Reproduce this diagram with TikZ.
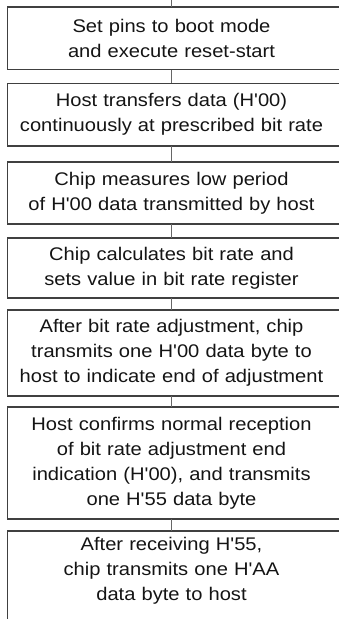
\documentclass[tikz,border=0pt]{standalone}
\usepackage{fontspec}
\setmainfont{Liberation Sans}[FakeStretch=1.1, Ligatures=TeXOff]
\begin{document}
\begin{tikzpicture}[x=1pt,y=-1pt,
  stepbox/.style={draw=none, minimum width=328pt, text width=326pt, align=center, inner sep=0pt,
    font=\fontsize{18.3}{25}\selectfont, text=black!92},
  boxline/.style={draw=black!75, line width=1.5pt},
  conn/.style={draw=black!60, line width=0.8pt}]
\useasboundingbox (0,0) rectangle (339,619);
\clip (0,0) rectangle (339,619);
\node[stepbox, minimum height=62.5pt] (b1) at (171.5,38.25) {Set pins to boot mode\\and execute reset-start};
\node[stepbox, minimum height=62.5pt] (b2) at (171.5,114.75) {Host transfers data (H'00)\\continuously at prescribed bit rate};
\node[stepbox, minimum height=61.7pt] (b3) at (171.5,193.15) {Chip measures low period\\of H'00 data transmitted by host};
\node[stepbox, minimum height=60pt] (b4) at (171.5,268) {Chip calculates bit rate and\\sets value in bit rate register};
\node[stepbox, minimum height=86pt] (b5) at (171.5,353) {After bit rate adjustment, chip\\transmits one H'00 data byte to\\host to indicate end of adjustment};
\node[stepbox, minimum height=112pt] (b6) at (171.5,463) {Host confirms normal reception\\of bit rate adjustment end\\indication (H'00), and transmits\\one H'55 data byte};
\node[stepbox, minimum height=79pt] (b7) at (171.5,570.5) {After receiving H'55,\\chip transmits one H'AA\\data byte to host};
\foreach \b in {b1,b2,b3,b4,b5,b6}
  \draw[boxline] (\b.north west) rectangle ([xshift=30pt]\b.south east);
\draw[boxline] ([yshift=-40pt]b7.south west) -- (b7.north west) -- ([xshift=30pt]b7.north east);
\coordinate (start) at (171.5,0);
\draw[conn] (start) -- (b1.north);
\draw[conn] (b1.south) -- (b2.north);
\draw[conn] (b2.south) -- (b3.north);
\draw[conn] (b3.south) -- (b4.north);
\draw[conn] (b4.south) -- (b5.north);
\draw[conn] (b5.south) -- (b6.north);
\draw[conn] (b6.south) -- (b7.north);
\end{tikzpicture}
\end{document}
